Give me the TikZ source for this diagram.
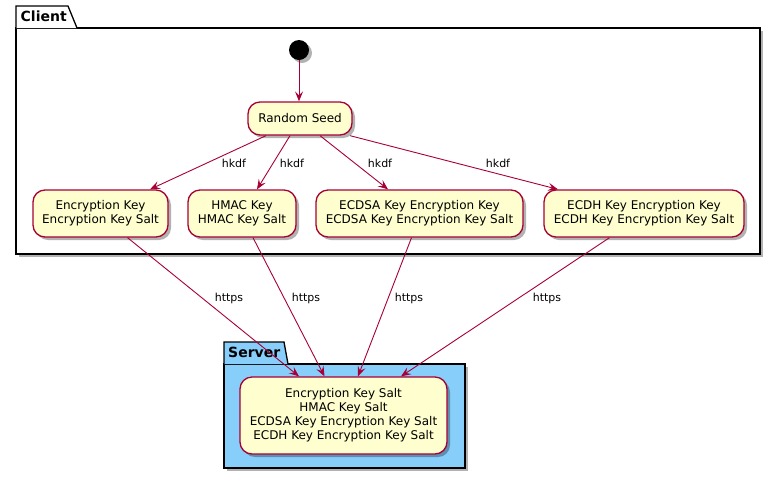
\documentclass[tikz,border=0pt]{standalone}
\usepackage{fontspec}
\setmainfont{DejaVu Sans}
\usetikzlibrary{arrows.meta,shadows}
\definecolor{pborder}{HTML}{A80036}
\definecolor{pfill}{HTML}{FEFECE}
\definecolor{pblue}{HTML}{87CEFA}
\begin{document}
\begin{tikzpicture}[x=1pt,y=-1pt,
  state/.style={draw=pborder, fill=pfill, line width=1.3pt, rounded corners=12pt, inner sep=0pt, align=center,
    font=\fontsize{12}{14}\selectfont,
    drop shadow={shadow xshift=3pt,shadow yshift=-3pt,fill=black,opacity=0.3}},
  arr/.style={draw=pborder, line width=0.9pt, -{Stealth[length=10pt,width=8pt,inset=4pt]}},
  lbl/.style={font=\fontsize{11}{13}\selectfont, inner sep=0pt},
  ptitle/.style={font=\bfseries\fontsize{14}{16}\selectfont, inner sep=0pt, anchor=base west},
  pkg/.style={draw=black, line width=1.3pt},
  pshadow/.style={fill=black, opacity=0.3}]
\useasboundingbox (0,0) rectangle (781,480);

% Client package
\fill[pshadow] (19,31) rectangle (763,257);
\draw[pkg,fill=white] (16,28) rectangle (760,254);
\draw[pkg,fill=white] (16,28) -- (16,6) -- (68,6) -- (77,28);
\node[ptitle] (clienttitle) at (20.5,21) {Client};

% Server package
\fill[pshadow] (227,367) rectangle (468,471);
\draw[pkg,fill=pblue] (224,364) rectangle (465,468);
\draw[pkg,fill=pblue] (224,364) -- (224,342) -- (284,342) -- (288,364);
\node[ptitle] (servertitle) at (228,357) {Server};

% Nodes
\node[circle, fill=black, minimum size=20pt, inner sep=0pt,
  drop shadow={shadow xshift=3pt,shadow yshift=-3pt,fill=black,opacity=0.3}] (start) at (299,50) {};
\node[state, minimum width=104pt, minimum height=33pt] (seed) at (300,118.5) {Random Seed};
\node[state, minimum width=135pt, minimum height=47pt] (enc) at (100.5,213.5) {Encryption Key\\Encryption Key Salt};
\node[state, minimum width=108pt, minimum height=47pt] (hmac) at (242,213.5) {HMAC Key\\HMAC Key Salt};
\node[state, minimum width=207pt, minimum height=47pt] (ecdsa) at (419.5,213.5) {ECDSA Key Encryption Key\\ECDSA Key Encryption Key Salt};
\node[state, minimum width=200pt, minimum height=47pt] (ecdh) at (644,213.5) {ECDH Key Encryption Key\\ECDH Key Encryption Key Salt};
\node[state, minimum width=207pt, minimum height=77pt] (srv) at (343.5,415.5) {Encryption Key Salt\\HMAC Key Salt\\ECDSA Key Encryption Key Salt\\ECDH Key Encryption Key Salt};

% Connectors
\draw[arr] (start.south) -- (start.south |- seed.north);
\draw[arr] ([xshift=-34pt]seed.south) -- ([xshift=49.5pt]enc.north);
\draw[arr] ([xshift=-10pt]seed.south) -- ([xshift=15pt]hmac.north);
\draw[arr] ([xshift=20pt]seed.south) -- ([xshift=-31.5pt]ecdsa.north);
\draw[arr] ([xshift=50pt]seed.south) -- ([xshift=-86pt]ecdh.north);

\draw[arr] ([xshift=27pt]enc.south) -- ([xshift=-44.5pt]srv.north);
\draw[arr] ([xshift=11pt]hmac.south) -- ([xshift=-19pt]srv.north);
\draw[arr] ([xshift=-8pt]ecdsa.south) -- ([xshift=14.5pt]srv.north);
\draw[arr] ([xshift=-34.5pt]ecdh.south) -- ([xshift=57.5pt]srv.north);

% Labels
\node[lbl] (l1) at (234,163) {hkdf};
\node[lbl] (l2) at (292,163) {hkdf};
\node[lbl] (l3) at (380,163) {hkdf};
\node[lbl] (l4) at (498,163) {hkdf};
\node[lbl] (h1) at (229,298) {https};
\node[lbl] (h2) at (306,298) {https};
\node[lbl] (h3) at (409,298) {https};
\node[lbl] (h4) at (547,298) {https};
\end{tikzpicture}
\end{document}
